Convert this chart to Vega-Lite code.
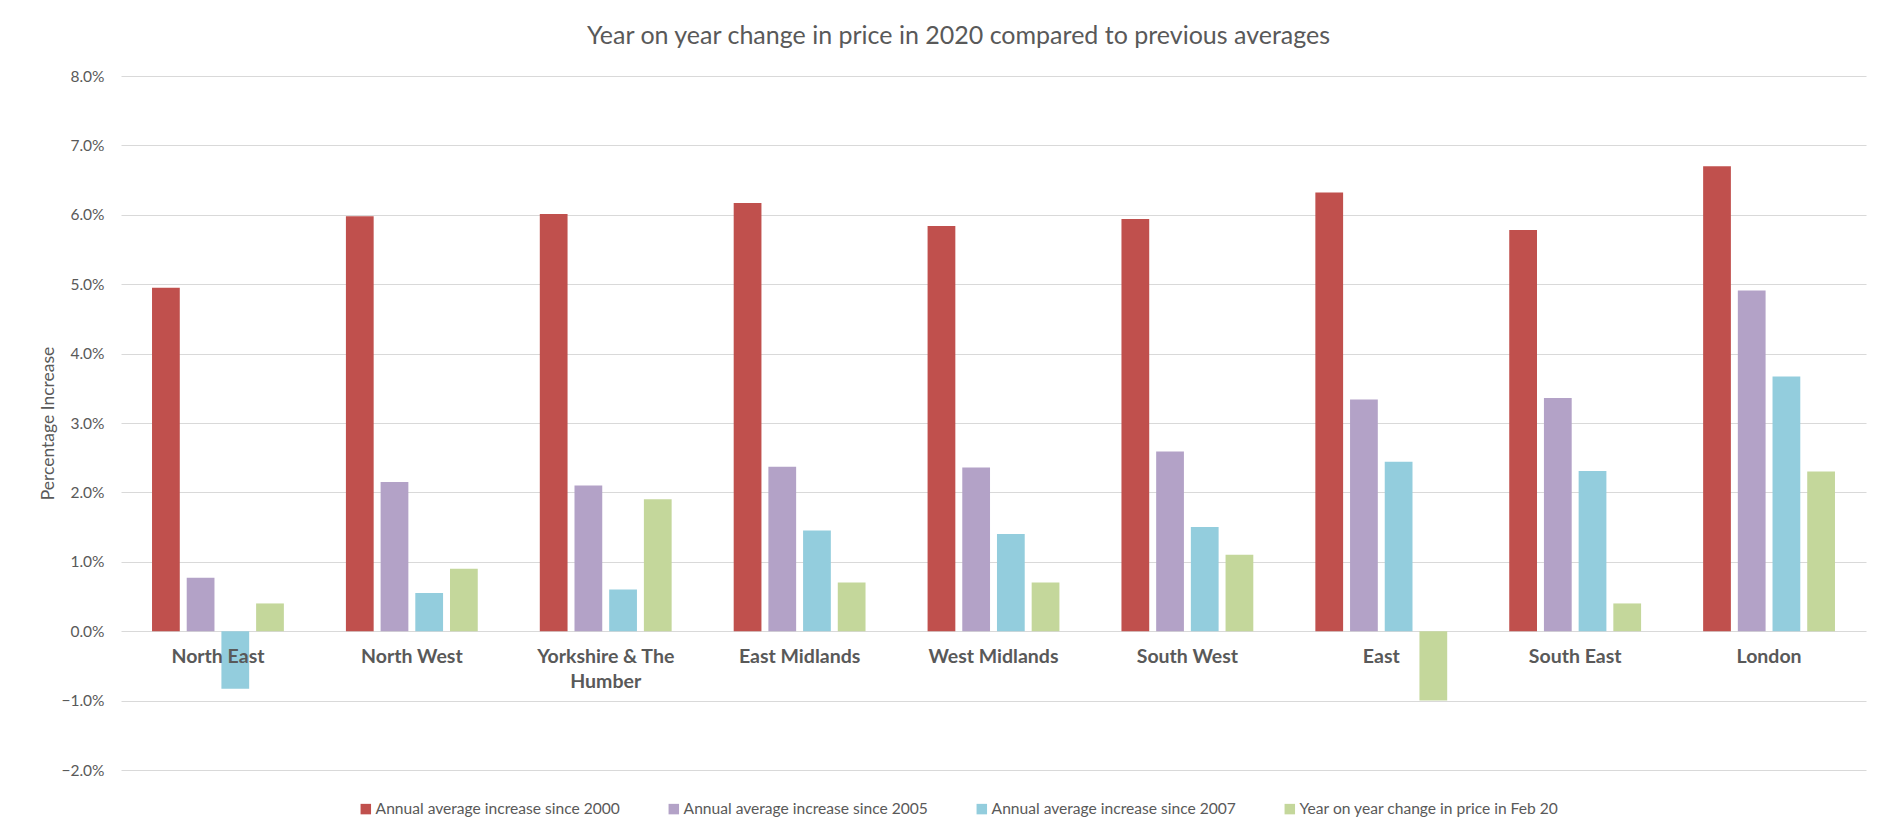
{
  "$schema": "https://vega.github.io/schema/vega-lite/v6.json",
  "width": 1745,
  "height": 694,
  "autosize": {"type": "none"},
  "padding": {"left": 121, "top": 76, "right": 24, "bottom": 61},
  "background": "white",
  "title": {"text": "Year on year change in price in 2020 compared to previous averages", "font": "Lato", "fontSize": 25, "fontWeight": "normal", "color": "#595959", "anchor": "middle", "offset": 20, "dx": -35},
  "config": {"view": {"stroke": null}, "font": "Lato"},
  "layer": [
    {
      "data": {"values": [
        {"region": "North East", "series": "Annual average increase since 2000", "value": 0.0495},
        {"region": "North East", "series": "Annual average increase since 2005", "value": 0.0077},
        {"region": "North East", "series": "Annual average increase since 2007", "value": -0.0083},
        {"region": "North East", "series": "Year on year change in price in Feb 20", "value": 0.004},
        {"region": "North West", "series": "Annual average increase since 2000", "value": 0.0598},
        {"region": "North West", "series": "Annual average increase since 2005", "value": 0.0215},
        {"region": "North West", "series": "Annual average increase since 2007", "value": 0.0055},
        {"region": "North West", "series": "Year on year change in price in Feb 20", "value": 0.009},
        {"region": "Yorkshire & The Humber", "series": "Annual average increase since 2000", "value": 0.0601},
        {"region": "Yorkshire & The Humber", "series": "Annual average increase since 2005", "value": 0.021},
        {"region": "Yorkshire & The Humber", "series": "Annual average increase since 2007", "value": 0.006},
        {"region": "Yorkshire & The Humber", "series": "Year on year change in price in Feb 20", "value": 0.019},
        {"region": "East Midlands", "series": "Annual average increase since 2000", "value": 0.0617},
        {"region": "East Midlands", "series": "Annual average increase since 2005", "value": 0.0237},
        {"region": "East Midlands", "series": "Annual average increase since 2007", "value": 0.0145},
        {"region": "East Midlands", "series": "Year on year change in price in Feb 20", "value": 0.007},
        {"region": "West Midlands", "series": "Annual average increase since 2000", "value": 0.0584},
        {"region": "West Midlands", "series": "Annual average increase since 2005", "value": 0.0236},
        {"region": "West Midlands", "series": "Annual average increase since 2007", "value": 0.014},
        {"region": "West Midlands", "series": "Year on year change in price in Feb 20", "value": 0.007},
        {"region": "South West", "series": "Annual average increase since 2000", "value": 0.0594},
        {"region": "South West", "series": "Annual average increase since 2005", "value": 0.0259},
        {"region": "South West", "series": "Annual average increase since 2007", "value": 0.015},
        {"region": "South West", "series": "Year on year change in price in Feb 20", "value": 0.011},
        {"region": "East", "series": "Annual average increase since 2000", "value": 0.0632},
        {"region": "East", "series": "Annual average increase since 2005", "value": 0.0334},
        {"region": "East", "series": "Annual average increase since 2007", "value": 0.0244},
        {"region": "East", "series": "Year on year change in price in Feb 20", "value": -0.01},
        {"region": "South East", "series": "Annual average increase since 2000", "value": 0.0578},
        {"region": "South East", "series": "Annual average increase since 2005", "value": 0.0336},
        {"region": "South East", "series": "Annual average increase since 2007", "value": 0.0231},
        {"region": "South East", "series": "Year on year change in price in Feb 20", "value": 0.004},
        {"region": "London", "series": "Annual average increase since 2000", "value": 0.067},
        {"region": "London", "series": "Annual average increase since 2005", "value": 0.0491},
        {"region": "London", "series": "Annual average increase since 2007", "value": 0.0367},
        {"region": "London", "series": "Year on year change in price in Feb 20", "value": 0.023}
      ]},
      "mark": {"type": "bar"},
      "encoding": {
        "x": {"field": "region", "type": "nominal", "sort": ["North East", "North West", "Yorkshire & The Humber", "East Midlands", "West Midlands", "South West", "East", "South East", "London"], "scale": {"paddingInner": 0.32, "paddingOuter": 0.16}, "axis": null},
        "xOffset": {"field": "series", "type": "nominal", "sort": ["Annual average increase since 2000", "Annual average increase since 2005", "Annual average increase since 2007", "Year on year change in price in Feb 20"], "scale": {"paddingInner": 0.2}},
        "y": {"field": "value", "type": "quantitative", "scale": {"domain": [-0.02, 0.08], "nice": false, "zero": false},
          "axis": {"title": "Percentage Increase", "format": ".1%", "values": [-0.02, -0.01, 0, 0.01, 0.02, 0.03, 0.04, 0.05, 0.06, 0.07, 0.08], "labelOverlap": false, "grid": true, "gridColor": "#D9D9D9", "gridWidth": 1, "domain": false, "ticks": false, "labelFontSize": 15.5, "labelColor": "#595959", "labelPadding": 17, "titleFontSize": 17.5, "titleFontWeight": "normal", "titleColor": "#595959", "titlePadding": 3, "titleFont": "Lato", "labelFont": "Lato"}},
        "color": {"field": "series", "type": "nominal",
          "scale": {"domain": ["Annual average increase since 2000", "Annual average increase since 2005", "Annual average increase since 2007", "Year on year change in price in Feb 20"], "range": ["#C0504D", "#B3A2C7", "#93CDDD", "#C4D79B"]},
          "legend": {"orient": "none", "legendX": 237, "legendY": 725, "direction": "horizontal", "title": null, "symbolType": "square", "symbolSize": 110, "symbolStrokeWidth": 0, "labelFontSize": 15.6, "labelColor": "#595959", "labelFont": "Lato", "columnPadding": 46, "labelOffset": 2, "labelLimit": 400}}
      }
    },
    {
      "data": {"values": [
        {"region": "North East", "label": "North East"},
        {"region": "North West", "label": "North West"},
        {"region": "Yorkshire & The Humber", "label": "Yorkshire & The\nHumber"},
        {"region": "East Midlands", "label": "East Midlands"},
        {"region": "West Midlands", "label": "West Midlands"},
        {"region": "South West", "label": "South West"},
        {"region": "East", "label": "East"},
        {"region": "South East", "label": "South East"},
        {"region": "London", "label": "London"}
      ]},
      "mark": {"type": "text", "font": "Lato", "fontWeight": "bold", "fontSize": 19.5, "color": "#595959", "baseline": "top", "dy": 17, "lineBreak": "\n", "lineHeight": 25},
      "encoding": {
        "x": {"field": "region", "type": "nominal", "sort": ["North East", "North West", "Yorkshire & The Humber", "East Midlands", "West Midlands", "South West", "East", "South East", "London"]},
        "y": {"datum": 0, "type": "quantitative",
          "axis": {"title": "Percentage Increase", "format": ".1%", "values": [-0.02, -0.01, 0, 0.01, 0.02, 0.03, 0.04, 0.05, 0.06, 0.07, 0.08], "labelOverlap": false, "grid": true, "gridColor": "#D9D9D9", "gridWidth": 1, "domain": false, "ticks": false, "labelFontSize": 15.5, "labelColor": "#595959", "labelPadding": 17, "titleFontSize": 17.5, "titleFontWeight": "normal", "titleColor": "#595959", "titlePadding": 3, "titleFont": "Lato", "labelFont": "Lato"}},
        "text": {"field": "label"}
      }
    }
  ]
}
